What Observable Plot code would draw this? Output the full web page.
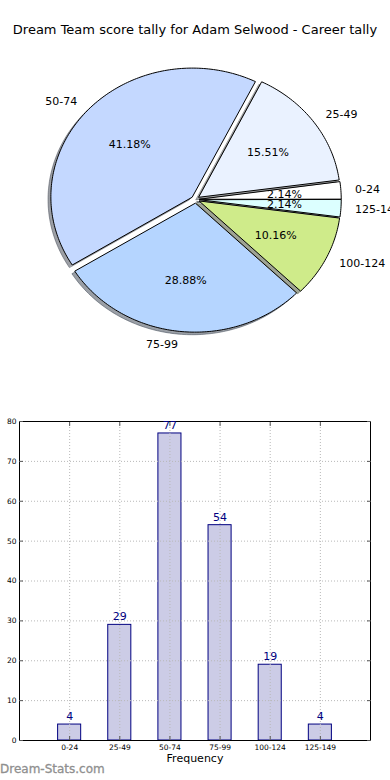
<!DOCTYPE html>
<html><head><meta charset="utf-8">
<script src="https://cdn.jsdelivr.net/npm/d3@7"></script>
<script src="https://cdn.jsdelivr.net/npm/@observablehq/plot@0.6"></script>
<style>
html,body{margin:0;padding:0;background:#fff;overflow:hidden;width:390px;height:780px;}
body{position:relative;font-family:"DejaVu Sans",sans-serif;}
#title{position:absolute;left:0;top:0;width:390px;height:60px;line-height:60px;text-align:center;font-size:13px;color:#000;white-space:nowrap;}
#pie{position:absolute;left:0;top:60px;}
#bar{position:absolute;left:0;top:400px;}
#wm{position:absolute;left:0;top:762px;font-size:12px;font-weight:normal;color:#8f8f8f;white-space:nowrap;-webkit-text-stroke:0.3px #8f8f8f;}
svg{overflow:visible;font-family:"DejaVu Sans",sans-serif;}
</style></head><body>
<div id="title">Dream Team score tally for Adam Selwood - Career tally</div>
<div id="pie"></div>
<div id="bar"></div>
<div id="wm">Dream-Stats.com</div>
<script>
const categories = ["0-24","25-49","50-74","75-99","100-124","125-149"];
const counts = [4, 29, 77, 54, 19, 4];
const sliceColors = ["#ffffff","#eaf2ff","#c4d8ff","#b5d5ff","#cfeb8a","#dcffff"];
const explode = [0.03, 0.03, 0.03, 0.03, 0.03, 0.03];
const yTicks = [0,10,20,30,40,50,60,70,80];
const xTicks = [0,1,2,3,4,5];

// ---- pie geometry from the data ----
const total = d3.sum(counts);
const rad = Math.PI / 180;
let cum = 0;
const wedges = counts.map((v, i) => {
  const t1 = cum / total * 360;
  cum += v;
  const t2 = cum / total * 360;
  const tm = (t1 + t2) / 2;
  const ox = explode[i] * Math.cos(tm * rad), oy = explode[i] * Math.sin(tm * rad);
  const pts = [[ox, oy]];
  const n = Math.max(2, Math.ceil((t2 - t1) / 1));
  for (let k = 0; k <= n; k++) {
    const t = (t1 + (t2 - t1) * k / n) * rad;
    pts.push([ox + Math.cos(t), oy + Math.sin(t)]);
  }
  return {i, label: categories[i], tm, ox, oy, pts, color: sliceColors[i], pct: (v / total * 100).toFixed(2) + "%"};
});
function darken(c) {
  const r = d3.rgb(c);
  return d3.rgb(r.r * 0.3, r.g * 0.3, r.b * 0.3).formatHex();
}
const wedgePts = wedges.flatMap(w => w.pts.map(([x, y]) => ({k: w.label, x, y, color: w.color})));
const shadowPts = wedges.flatMap(w => w.pts.map(([x, y]) => ({k: w.label, x: x - 0.02, y: y - 0.02, color: darken(w.color)})));
const labelPos = wedges.map(w => ({
  text: w.label,
  x: w.ox + 1.1 * Math.cos(w.tm * rad),
  y: w.oy + 1.1 * Math.sin(w.tm * rad),
  right: Math.cos(w.tm * rad) > 0
}));
const pctPos = wedges.map(w => ({
  text: w.pct,
  x: w.ox + 0.6 * Math.cos(w.tm * rad),
  y: w.oy + 0.6 * Math.sin(w.tm * rad)
}));

const pieH = 340, cxPx = 195, cyPx = 139, rx = 141.5, ry = 128.8;
const pie = Plot.plot({
  width: 390, height: pieH, margin: 0,
  style: {background: "transparent"},
  x: {domain: [-cxPx / rx, (390 - cxPx) / rx], axis: null},
  y: {domain: [-(pieH - cyPx) / ry, cyPx / ry], axis: null},
  color: {type: "identity"},
  marks: [
    Plot.line(shadowPts, {x: "x", y: "y", z: "k", fill: "color", fillOpacity: 0.5, stroke: "color", strokeOpacity: 0.5, strokeWidth: 1, curve: "linear-closed"}),
    Plot.line(wedgePts, {x: "x", y: "y", z: "k", fill: "color", stroke: "#000", strokeWidth: 1, curve: "linear-closed"}),
    Plot.text(labelPos.filter(d => d.right), {x: "x", y: "y", text: "text", textAnchor: "start", fontSize: 11, fill: "#000"}),
    Plot.text(labelPos.filter(d => !d.right), {x: "x", y: "y", text: "text", textAnchor: "end", fontSize: 11, fill: "#000"}),
    Plot.text(pctPos, {x: "x", y: "y", text: "text", textAnchor: "middle", fontSize: 11, fill: "#000"})
  ]
});
document.getElementById("pie").appendChild(pie);

// ---- bar chart ----
const barData = counts.map((v, i) => ({i, cat: categories[i], value: v}));
const grid = {stroke: "#b8b8b8", strokeOpacity: 1, strokeWidth: 1, strokeDasharray: "1,2"};
const bar = Plot.plot({
  width: 390, height: 380,
  marginTop: 21, marginBottom: 40, marginLeft: 19, marginRight: 20,
  style: {background: "transparent"},
  x: {domain: [-1, 6], axis: null},
  y: {domain: [0, 80], axis: null},
  marks: [
    Plot.rect(barData, {x1: d => d.i - 0.23, x2: d => d.i + 0.23, y1: d => 0, y2: "value", fill: "#ccccE6", stroke: "#000080", strokeWidth: 1}),
    Plot.gridY(yTicks.slice(1, -1), grid),
    Plot.gridX(xTicks, grid),
    Plot.frame({stroke: "#000", strokeWidth: 1}),
    Plot.axisY(yTicks, {anchor: "left", label: null, tickSize: -4, tickPadding: 7, fontSize: 7.5, stroke: "#555"}),
    Plot.axisY(yTicks, {anchor: "right", label: null, tickSize: -4, tickFormat: () => "", stroke: "#555"}),
    Plot.axisX(xTicks, {anchor: "bottom", label: null, tickSize: -4, tickPadding: 8, fontSize: 7.5, tickFormat: i => categories[i], stroke: "#555"}),
    Plot.axisX(xTicks, {anchor: "top", label: null, tickSize: -4, tickFormat: () => "", stroke: "#555"}),
    Plot.text(barData, {x: "i", y: "value", text: d => String(d.value), dy: -8, fill: "#000080", fontSize: 11}),
    Plot.text(["Frequency"], {frameAnchor: "bottom", dy: 21, fontSize: 11, fill: "#000"})
  ]
});
document.getElementById("bar").appendChild(bar);
</script>
</body></html>
